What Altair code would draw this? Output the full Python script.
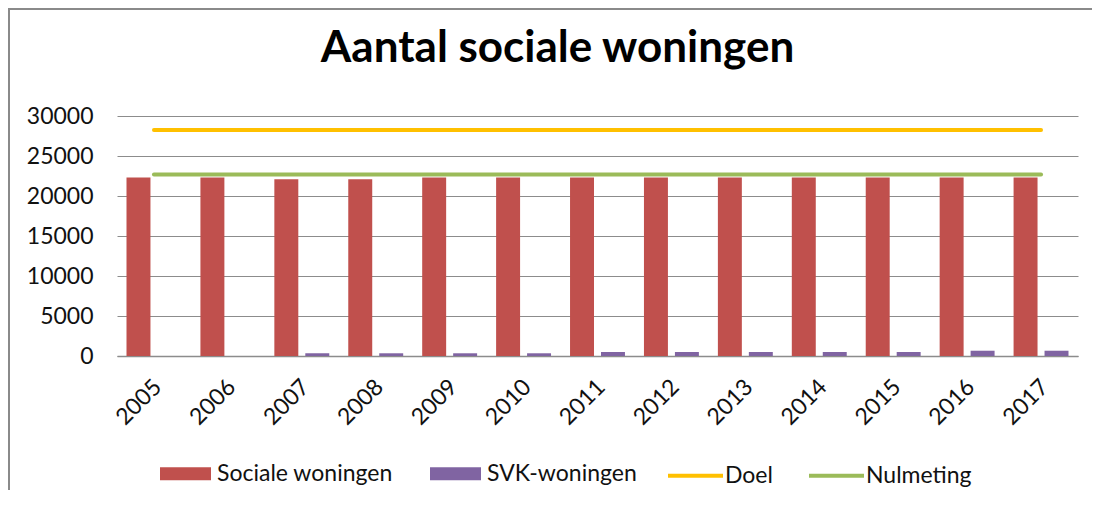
import altair as alt
import pandas as pd

years = ["2005", "2006", "2007", "2008", "2009", "2010", "2011", "2012", "2013", "2014", "2015", "2016", "2017"]
sociale = [22300, 22300, 22100, 22100, 22300, 22300, 22300, 22300, 22300, 22300, 22300, 22300, 22300]
svk = [0, 0, 340, 340, 340, 340, 500, 500, 500, 500, 500, 660, 660]
doel = [28250] * 13
nulmeting = [22700] * 13

bar_series = ["Sociale woningen", "SVK-woningen"]
line_series = ["Doel", "Nulmeting"]
bar_colors = ["#C0504D", "#8064A2"]
line_colors = ["#FFC000", "#9BBB59"]

bar_df = pd.DataFrame(
    [{"year": y, "series": bar_series[0], "value": v} for y, v in zip(years, sociale)]
    + [{"year": y, "series": bar_series[1], "value": v} for y, v in zip(years, svk)]
)
line_df = pd.DataFrame(
    [{"year": y, "series": line_series[0], "value": v} for y, v in zip(years, doel)]
    + [{"year": y, "series": line_series[1], "value": v} for y, v in zip(years, nulmeting)]
)

FONT = "Lato"

x_axis = alt.Axis(
    labelAngle=-45,
    labelAlign="right",
    labelBaseline="middle",
    labelPadding=27,
    labelOffset=4,
    labelFontSize=23,
    labelFont=FONT,
    labelColor="#111111",
    labelOverlap=False,
    ticks=False,
    domainColor="#8c8c8c",
    domainWidth=1.5,
    grid=False,
)
y_axis = alt.Axis(
    values=[0, 5000, 10000, 15000, 20000, 25000, 30000],
    format="d",
    labelFontSize=23,
    labelFont=FONT,
    labelColor="#111111",
    labelPadding=24,
    labelOverlap=False,
    labelBound=False,
    ticks=False,
    domain=False,
    grid=True,
    gridColor="#8c8c8c",
    gridWidth=1,
)
x_scale = alt.Scale(paddingInner=0.257, paddingOuter=0.1285)
y_scale = alt.Scale(domain=[0, 30000], nice=False)

bars = alt.Chart(bar_df).mark_bar().encode(
    x=alt.X("year:N", sort=years, title=None, scale=x_scale, axis=x_axis),
    y=alt.Y("value:Q", title=None, scale=y_scale, axis=y_axis),
    xOffset=alt.XOffset("series:N", scale=alt.Scale(domain=bar_series, paddingInner=0.226, paddingOuter=0)),
    color=alt.Color(
        "series:N",
        scale=alt.Scale(domain=bar_series, range=bar_colors),
        legend=alt.Legend(
            title=None,
            orient="none",
            direction="horizontal",
            legendX=43,
            legendY=332,
            symbolType="M-1,-0.255L1,-0.255L1,0.255L-1,0.255Z",
            symbolSize=2601,
            symbolStrokeWidth=0,
            symbolOpacity=1,
            labelFontSize=23,
            labelFont=FONT,
            labelColor="#111111",
            labelOffset=6,
            labelLimit=400,
            columnPadding=37,
            padding=0,
        ),
    ),
)

lines = alt.Chart(line_df).mark_line(strokeWidth=4, strokeCap="round").encode(
    x=alt.X("year:N", sort=years, title=None, scale=x_scale, axis=x_axis),
    y=alt.Y("value:Q", title=None, scale=y_scale, axis=y_axis),
    stroke=alt.Stroke(
        "series:N",
        scale=alt.Scale(domain=line_series, range=line_colors),
        legend=alt.Legend(
            title=None,
            orient="none",
            direction="horizontal",
            legendX=549,
            legendY=330,
            symbolType="M-1,0L1,0",
            symbolSize=3025,
            symbolStrokeWidth=4,
            labelFontSize=23,
            labelFont=FONT,
            labelColor="#111111",
            labelOffset=0,
            labelLimit=400,
            columnPadding=28,
            padding=0,
        ),
    ),
)

frame_df = pd.DataFrame({"a": [0]})
frame = alt.Chart(frame_df).mark_rect(
    fill="transparent", stroke="#8a8a8a", strokeWidth=2
).encode(
    x=alt.value(-108), x2=alt.value(1400), y=alt.value(-107), y2=alt.value(900)
)

chart = (
    alt.layer(frame, bars, lines)
    .resolve_scale(color="independent", stroke="independent")
    .properties(
        width=961,
        height=240,
        autosize=alt.AutoSizeParams(type="none"),
        padding={"left": 109, "top": 108, "right": 14, "bottom": 134},
        title=alt.TitleParams(
            "Aantal sociale woningen",
            font=FONT,
            fontSize=44,
            fontWeight="bold",
            color="#000000",
            anchor="middle",
            baseline="alphabetic",
            offset=-98,
            dx=-40,
        ),
    )
    .configure_view(stroke=None)
)

chart.save("out.html", embed_options={"renderer": "svg", "actions": False})
